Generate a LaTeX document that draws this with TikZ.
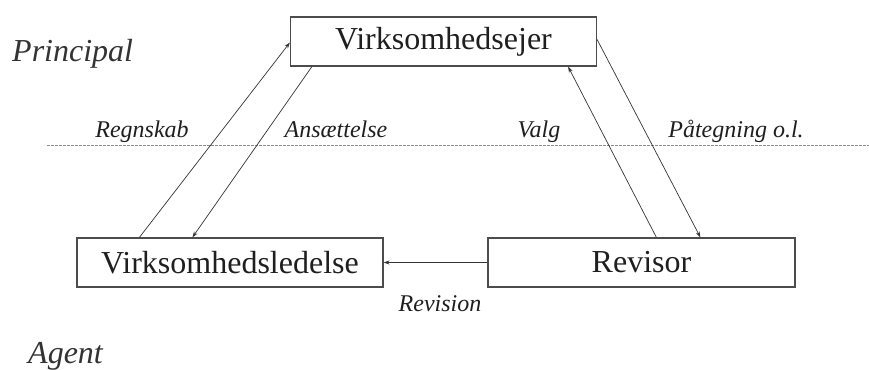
\documentclass[tikz,border=0pt]{standalone}
\usepackage{fontspec}
\setmainfont{Liberation Serif}
\usetikzlibrary{arrows.meta}
\begin{document}
\begin{tikzpicture}[x=1pt,y=-1pt,
  box/.style={draw=black!70,line width=1.2pt,minimum width=306pt,minimum height=49pt,inner sep=0pt,font=\fontsize{32}{36}\selectfont,text=black!88},
  conn/.style={draw=black!80,line width=0.7pt,-{Stealth[length=6pt,width=4pt]}},
  lab/.style={font=\fontsize{24}{28}\selectfont\itshape,text=black!88,inner sep=0pt,anchor=base},
  side/.style={font=\fontsize{32}{36}\selectfont\itshape,text=black!80,inner sep=0pt,anchor=base west}]
\useasboundingbox (0,0) rectangle (869,369);
\coordinate (dl) at (47,145);
\coordinate (dr) at (869,145);
\draw[black!45,line width=0.8pt,dash pattern=on 2.5pt off 1.5pt] (dl) -- (dr);
\node[box] (ejer) at (443.5,41.5) {Virksomhedsejer};
\node[box] (ledelse) at (230,262.5) {Virksomhedsledelse};
\node[box,minimum width=307pt] (revisor) at (641.5,262.5) {Revisor};
\draw[conn] ([xshift=63pt]ledelse.north west) -- ([yshift=-1pt]ejer.west);
\draw[conn] ([xshift=22pt]ejer.south west) -- ([xshift=116pt]ledelse.north west);
\draw[conn] ([xshift=169pt]revisor.north west) -- ([xshift=-29pt]ejer.south east);
\draw[conn] ([yshift=2pt]ejer.east) -- ([xshift=213pt]revisor.north west);
\draw[conn] (revisor.west) -- (ledelse.east);
\node[lab] (l1) at (142,137) {Regnskab};
\node[lab] (l2) at (336,137) {Ansættelse};
\node[lab] (l3) at (539,137) {Valg};
\node[lab] (l4) at (736,137) {Påtegning o.l.};
\node[lab] (l5) at (440,311) {Revision};
\node[side] (p) at (12,62) {Principal};
\node[side] (a) at (28,363) {Agent};
\end{tikzpicture}
\end{document}
